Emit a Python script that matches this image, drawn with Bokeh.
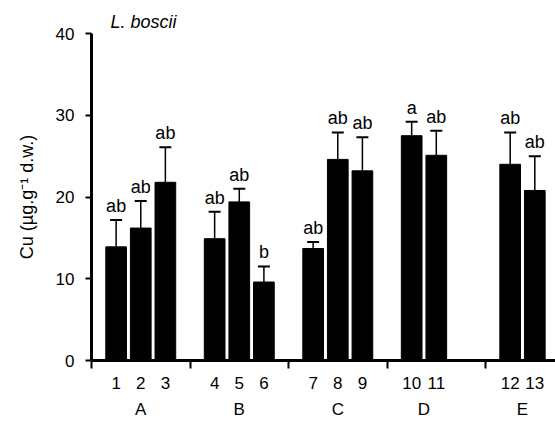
from bokeh.plotting import figure
from bokeh.models import Range1d, FixedTicker, LinearAxis, Whisker, TeeHead, ColumnDataSource
from bokeh.embed import file_html
from bokeh.resources import INLINE
from bokeh.core.properties import value

# ---- data ----
bar_labels = ["1", "2", "3", "4", "5", "6", "7", "8", "9", "10", "11", "12", "13"]
positions = [1, 2, 3, 5, 6, 7, 9, 10, 11, 13, 14, 17, 18]
means = [13.9, 16.2, 21.8, 14.9, 19.4, 9.6, 13.7, 24.6, 23.2, 27.5, 25.1, 24.0, 20.8]
errors = [3.3, 3.3, 4.3, 3.3, 1.6, 1.9, 0.8, 3.3, 4.1, 1.7, 3.0, 3.9, 4.2]
letters = ["ab", "ab", "ab", "ab", "ab", "b", "ab", "ab", "ab", "a", "ab", "ab", "ab"]
groups = ["A", "B", "C", "D", "E"]
group_centers = [2, 6, 10, 13.5, 17.5]
group_bounds = [0, 4, 8, 12, 16]
y_ticks = [0, 10, 20, 30, 40]

FONT = "Liberation Sans"

upper = [m + e for m, e in zip(means, errors)]
src = ColumnDataSource(dict(x=positions, top=means, lower=means, upper=upper, lab=letters))

p = figure(width=555, height=421, x_range=Range1d(0, 18.84), y_range=Range1d(0, 40),
           x_axis_type=None, y_axis_type=None,
           output_backend="svg", toolbar_location=None,
           min_border_left=91, min_border_right=0, min_border_top=33, min_border_bottom=58)
p.outline_line_color = None
p.background_fill_color = "white"
p.border_fill_color = "white"

# species title
p.title.text = "L. boscii"
p.title.text_font = FONT
p.title.text_font_size = "18px"
p.title.text_font_style = "italic"
p.title.text_color = "black"
p.title.align = "left"
p.title.offset = 19
p.title.standoff = 4

# y axis
yaxis = LinearAxis(ticker=FixedTicker(ticks=y_ticks),
                   axis_label="Cu (µg.g⁻¹ d.w.)",
                   axis_line_width=3, axis_line_color="black",
                   major_tick_out=6, major_tick_in=0, major_tick_line_width=2,
                   minor_tick_line_color=None,
                   major_label_standoff=11,
                   major_label_text_font=FONT, major_label_text_font_size="17px",
                   major_label_text_color="black",
                   axis_label_text_font=FONT, axis_label_text_font_size="18px",
                   axis_label_text_font_style="normal", axis_label_text_color="black",
                   axis_label_standoff=16)
p.add_layout(yaxis, "left")

# x axis: bar numbers + group boundary ticks
xaxis1 = LinearAxis(ticker=FixedTicker(ticks=positions, minor_ticks=group_bounds),
                    major_label_overrides={pos: lab for pos, lab in zip(positions, bar_labels)},
                    axis_line_width=3, axis_line_color="black",
                    major_tick_out=0, major_tick_in=0, major_tick_line_color=None,
                    minor_tick_out=8, minor_tick_in=0, minor_tick_line_width=2,
                    minor_tick_line_color="black",
                    major_label_standoff=8,
                    major_label_text_font=FONT, major_label_text_font_size="17px",
                    major_label_text_color="black")
p.add_layout(xaxis1, "below")

# x axis: group letters
xaxis2 = LinearAxis(ticker=FixedTicker(ticks=group_centers),
                    major_label_overrides={c: g for c, g in zip(group_centers, groups)},
                    axis_line_color=None, major_tick_line_color=None, minor_tick_line_color=None,
                    major_tick_out=0, major_tick_in=0,
                    major_label_standoff=8,
                    major_label_text_font=FONT, major_label_text_font_size="17px",
                    major_label_text_color="black")
p.add_layout(xaxis2, "below")

# bars
p.vbar(x="x", top="top", width=0.84, bottom=0, source=src,
       fill_color="black", line_color="black")

# error bars (upper only)
w = Whisker(base="x", upper="upper", lower="lower", source=src,
            upper_head=TeeHead(size=12, line_width=2, line_color="black"),
            lower_head=None, line_width=1.5, line_color="black")
p.add_layout(w)

# significance letters
p.text(x="x", y="upper", text="lab", source=src,
       text_align="center", text_baseline="bottom", y_offset=-4,
       text_font=value(FONT), text_font_size="18px", text_color="black")

open("out.html", "w").write(file_html(p, INLINE))
